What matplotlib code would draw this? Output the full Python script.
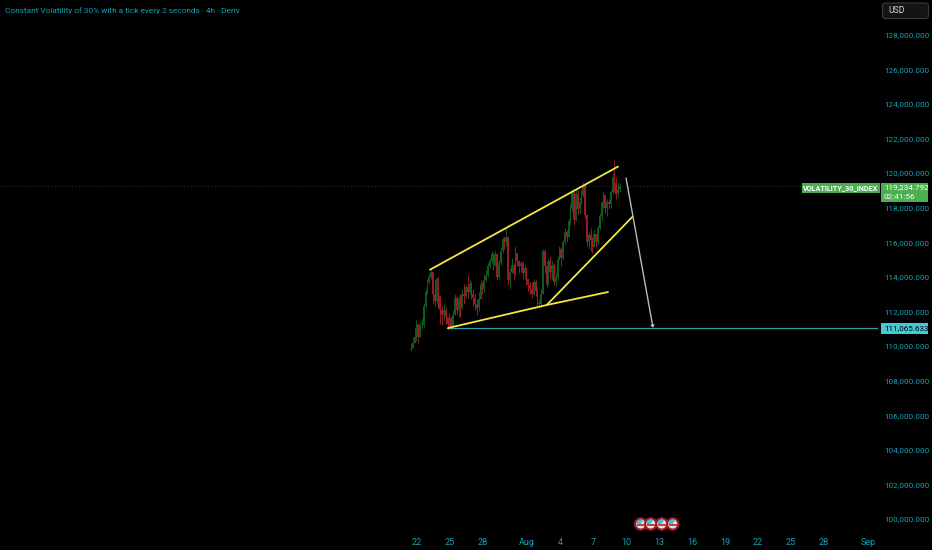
import matplotlib
matplotlib.use("Agg")
import matplotlib.pyplot as plt
from matplotlib.patches import Rectangle, FancyBboxPatch, Wedge
from matplotlib.transforms import Affine2D

W, H = 932, 550
plt.rcParams['font.family'] = ['Roboto', 'DejaVu Sans']

title = "Constant Volatility of 30% with a tick every 2 seconds · 4h · Deriv"
y_ticks = [100000, 102000, 104000, 106000, 108000, 110000, 112000, 114000,
           116000, 118000, 120000, 122000, 124000, 126000, 128000]
x_tick_days = [0, 3, 6, 10, 13, 16, 19, 22, 25, 28, 31, 34, 37, 41]
x_tick_labels = ["22", "25", "28", "Aug", "4", "7", "10", "13", "16", "19", "22", "25", "28", "Sep"]

# Candles: 4h bars; each opens at the previous close
first_open = 109800
closes = [
    109900, 110200, 110500, 111300, 110500, 111200,
    111200, 112300, 113100, 113700, 114000, 114300,
    113000, 112600, 113900, 112900, 112100, 111800,
    112100, 111700, 111300, 111600, 111100, 111800,
    112800, 112100, 112700, 112200, 113000, 112900,
    113400, 113100, 113600, 113000, 112800, 112400,
    112200, 112700, 113600, 113300, 113800, 114100,
    114600, 114900, 115300, 114700, 115300, 114000,
    114800, 115500, 116200, 116000, 116300, 113800,
    114300, 114700, 114200, 115400, 114900, 114600,
    114800, 114200, 114500, 113900, 113500, 113300,
    113000, 113700, 113200, 112500, 112400, 113000,
    115500, 114600, 113600, 114900, 114300, 114700,
    113700, 114000, 115000, 115600, 115100, 116000,
    116600, 116300, 117200, 118000, 118900, 117300,
    118800, 117900, 118300, 118700, 119300, 117600,
    116000, 116400, 116100, 115700, 116500, 116000,
    116800, 117500, 118300, 118700, 118000, 118300,
    118200, 118900, 119700, 119400, 118800, 119100, 119235,
]
highs = [
    110200, 110500, 111100, 111500, 111200, 111400,
    111600, 112500, 113300, 113900, 114200, 114450,
    114300, 113900, 114000, 114000, 112800, 112300,
    112400, 112200, 111700, 111900, 111700, 112100,
    113000, 112900, 112900, 113000, 113300, 113600,
    113600, 114100, 113900, 113700, 113300, 113000,
    112700, 113100, 113800, 113700, 114100, 114400,
    114800, 115100, 115500, 115400, 115500, 115400,
    115000, 115700, 116300, 116300, 116800, 116300,
    114500, 115100, 114800, 115800, 115300, 115000,
    115000, 114900, 114700, 114500, 113900, 113700,
    113700, 113900, 113800, 113400, 112700, 113300,
    115600, 115600, 114900, 115100, 115200, 114900,
    114800, 114200, 115200, 115800, 115700, 116100,
    116800, 116700, 117400, 118200, 119100, 118700,
    119100, 119000, 118600, 119000, 119500, 119400,
    117600, 116600, 116800, 116300, 116700, 116500,
    117000, 117700, 118400, 118900, 118800, 118500,
    118500, 119000, 120000, 120750, 119700, 119500, 119400,
]
lows = [
    109700, 109900, 110200, 110300, 110200, 110500,
    111000, 111100, 112200, 113000, 113600, 113900,
    112400, 112300, 112500, 112200, 111300, 111200,
    111500, 111300, 110900, 111100, 110950, 111100,
    111800, 111800, 111700, 111700, 112100, 112400,
    112800, 112800, 113000, 112700, 112300, 112100,
    111800, 112000, 112700, 113000, 113100, 113700,
    114000, 114500, 114800, 114400, 114600, 113800,
    113900, 114700, 115400, 115600, 115800, 113500,
    113300, 114200, 113900, 114100, 114600, 114200,
    114300, 113900, 113900, 113500, 113200, 113000,
    112800, 112900, 112900, 112300, 112200, 112300,
    113000, 114200, 113400, 113500, 113900, 113800,
    113500, 113400, 113800, 115000, 114600, 115000,
    115900, 116000, 116300, 117000, 117800, 117000,
    117200, 117600, 117700, 118200, 118600, 117400,
    115800, 115600, 115500, 115400, 115700, 115700,
    115900, 116700, 117200, 118000, 117700, 117500,
    117900, 118000, 118800, 118900, 118500, 118600, 118900,
]
first_day = -0.55
bars_per_day = 6

# Drawn objects (day, price)
upper_x, upper_y = [1.18, 18.27], [114410, 120370]
lower_x, lower_y = [2.82, 11.79, 17.36], [111040, 112370, 113120]
mid_x, mid_y = [11.79, 19.6], [112370, 117480]
arrow_x, arrow_y = [19.0, 21.45], [119710, 111060]
target_day = 2.73
target_price = 111065.633
last_price = 119234.792
countdown = "02:41:56"
symbol = "VOLATILITY_30_INDEX"
event_px = [640.7, 650.7, 661.7, 672.7]

BG = "#000000"
TICK = "#18a0b4"
UP = "#0f5a1d"
DOWN = "#9c1a28"
YEL = "#f5e642"
TEAL = "#2f9fad"
GRN = "#4caf50"
FS = 5.9

fig = plt.figure(figsize=(W / 100, H / 100), dpi=100, facecolor=BG)
ax = fig.add_axes([0, 20 / H, 878 / W, 530 / H], facecolor=BG)
ax.set_xlim(-37.9, 41.9)
ax.set_ylim(99365, 130000)
for s in ax.spines.values():
    s.set_visible(False)
ax.yaxis.tick_right()
ax.set_yticks(y_ticks)
ax.set_yticklabels([f"{v:,.3f}" for v in y_ticks], fontsize=FS, color=TICK)
ax.set_xticks(x_tick_days)
ax.set_xticklabels(x_tick_labels, fontsize=6.5, color=TICK)
ax.tick_params(axis='y', length=0, pad=4.5)
ax.tick_params(axis='x', length=0, pad=6)

# last-price dotted line
ax.axhline(last_price, color="#2c3a2c", lw=0.7, ls=(0, (1, 2.5)), zorder=1)

# candles
prev = first_open
for i, (c, h, l) in enumerate(zip(closes, highs, lows)):
    d = first_day + i / bars_per_day
    col = UP if c >= prev else DOWN
    ax.vlines(d, l, h, color=col, lw=0.7, zorder=2)
    ax.bar(d, abs(c - prev) or 30, bottom=min(c, prev), width=0.16, color=col, lw=0, zorder=3)
    prev = c

# drawings
for xs, ys in ((upper_x, upper_y), (lower_x, lower_y), (mid_x, mid_y)):
    ax.plot(xs, ys, color=YEL, lw=1.3, zorder=5, solid_capstyle='round')
ax.plot([target_day, 41.9], [target_price, target_price], color=TEAL, lw=0.9, zorder=4)
ax.annotate("", xy=(arrow_x[1], arrow_y[1]), xytext=(arrow_x[0], arrow_y[0]),
            arrowprops=dict(arrowstyle="->,head_length=0.12,head_width=0.1", color="#b8bcb8", lw=1.0,
                            shrinkA=0, shrinkB=0), zorder=6)

# pixel placement for chart furniture
px = Affine2D().scale(1 / W, -1 / H).translate(0, 1) + fig.transFigure

def box(x0, y0, x1, y1, fc, ec="none", lw=0):
    fig.add_artist(Rectangle((x0, y0), x1 - x0, y1 - y0, transform=px, fc=fc, ec=ec, lw=lw, zorder=10))

def label(x, y, s, color, size=FS, ha="left", **kw):
    fig.text(x, y, s, transform=px, color=color, fontsize=size, ha=ha, va="center", zorder=11, **kw)

# event flags
for i, cx in enumerate(event_px):
    z = 10 + i * 0.01
    cy = 524
    fig.add_artist(plt.Circle((cx, cy), 6.3, transform=px, fc="#8f1722", ec="#b5202e", lw=0.6, zorder=z))
    fig.add_artist(plt.Circle((cx, cy), 4.6, transform=px, fc="#e8e2d2", ec="none", zorder=z))
    fig.add_artist(Rectangle((cx - 4.2, cy + 0.4), 8.4, 1.5, transform=px, fc="#c9404c", ec="none", zorder=z + 0.001))
    fig.add_artist(Wedge((cx, cy), 4.6, 180, 300, transform=px, fc="#3ec0da", ec="none", zorder=z + 0.002))

box(801.5, 182.5, 880, 193, GRN)
box(881, 182.5, 928, 202, GRN)
label(840.7, 187.6, symbol, "#ffffff", 5.2, ha="center", weight="bold")
label(884, 187.6, f"{last_price:,.3f}", "#ffffff", FS)
label(884, 196.6, countdown, "#ffffff", FS)

box(880.7, 323, 928, 333.5, "#45c8d8")
label(884, 328.2, f"{target_price:,.3f}", "#000000", FS)

fig.add_artist(FancyBboxPatch((882.5, 3), 46, 15.5, boxstyle="round,pad=0,rounding_size=3", transform=px,
                              fc="#141414", ec="#3a3a3a", lw=0.8, zorder=10))
label(888, 10.8, "USD", "#d8d8d8", 6.2)

label(5, 10.5, title, TICK, 5.95)

fig.savefig("out.png", dpi=100, facecolor=BG)
